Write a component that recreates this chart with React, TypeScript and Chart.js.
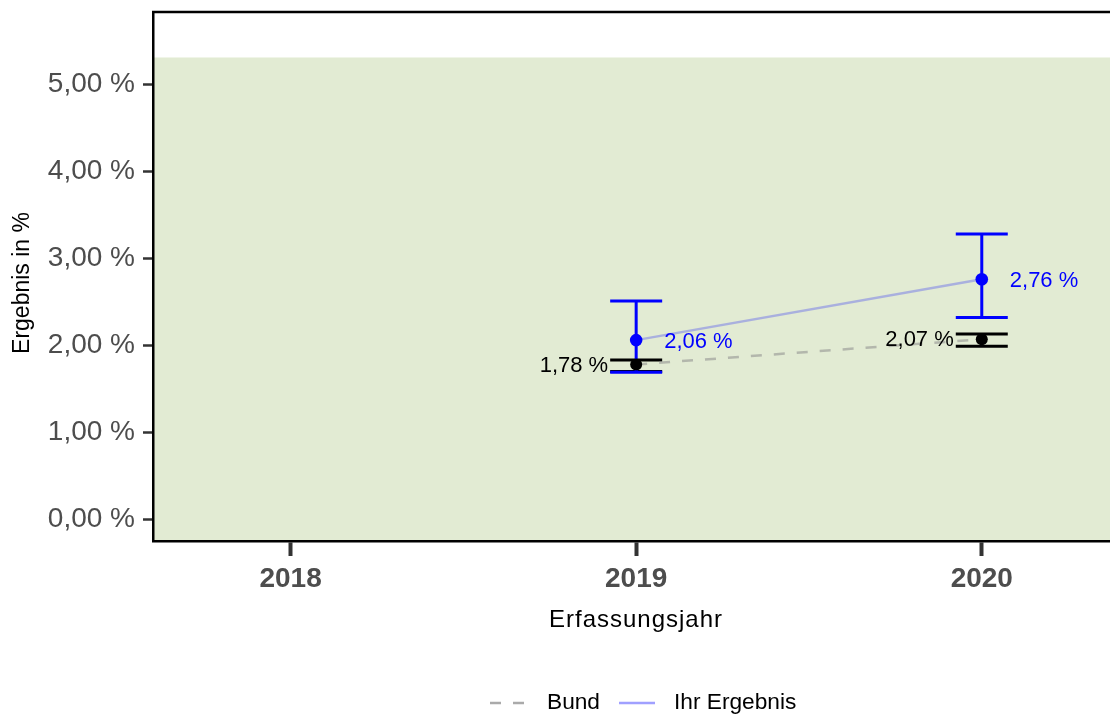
import React, { useEffect, useRef } from "react";
import { Chart, registerables } from "chart.js";

Chart.register(...registerables);

// ---- data ----
const years = [2019, 2020];
const xTickYears = [2018, 2019, 2020];
const yTickValues = [0, 1, 2, 3, 4, 5];
const seriesNames = ["Bund", "Ihr Ergebnis"];
const bundValues = [1.78, 2.07];
const bundLower = [1.7, 1.99];
const bundUpper = [1.83, 2.13];
const ihrValues = [2.06, 2.76];
const ihrLower = [1.69, 2.32];
const ihrUpper = [2.51, 3.28];
const referenceUpper = 5.31;
const xTitle = "Erfassungsjahr";
const yTitle = "Ergebnis in %";

const FONT = "'Liberation Sans', Arial, Helvetica, sans-serif";
const fmt = (v: number) => v.toFixed(2).replace(".", ",") + " %";

const W = 1110;
const H = 718;

export default function App() {
  const ref = useRef<HTMLCanvasElement | null>(null);

  useEffect(() => {
    const canvas = ref.current;
    if (!canvas) return;

    const bandPlugin = {
      id: "band",
      beforeDraw(chart: any) {
        const { ctx, chartArea, scales } = chart;
        const yTop = scales.y.getPixelForValue(referenceUpper);
        ctx.save();
        ctx.fillStyle = "#e2ebd3";
        ctx.fillRect(chartArea.left, yTop, chartArea.right - chartArea.left, chartArea.bottom - yTop);
        ctx.restore();
      },
    };

    const errorPlugin = {
      id: "errbars",
      beforeDatasetsDraw(chart: any) {
        const { ctx, scales } = chart;
        const draw = (lo: number[], hi: number[], color: string) => {
          ctx.save();
          ctx.strokeStyle = color;
          ctx.lineWidth = 3;
          ctx.lineCap = "butt";
          years.forEach((yr, i) => {
            const px = scales.x.getPixelForValue(yr);
            const pl = scales.y.getPixelForValue(lo[i]);
            const ph = scales.y.getPixelForValue(hi[i]);
            ctx.beginPath();
            ctx.moveTo(px, pl);
            ctx.lineTo(px, ph);
            ctx.moveTo(px - 26, pl);
            ctx.lineTo(px + 26, pl);
            ctx.moveTo(px - 26, ph);
            ctx.lineTo(px + 26, ph);
            ctx.stroke();
          });
          ctx.restore();
        };
        draw(bundLower, bundUpper, "#000000");
        draw(ihrLower, ihrUpper, "#0000ff");
      },
      afterDatasetsDraw(chart: any) {
        const { ctx, scales } = chart;
        ctx.save();
        ctx.font = `22px ${FONT}`;
        ctx.textBaseline = "middle";
        years.forEach((yr, i) => {
          const px = scales.x.getPixelForValue(yr);
          ctx.fillStyle = "#000000";
          ctx.textAlign = "right";
          ctx.fillText(fmt(bundValues[i]), px - 28, scales.y.getPixelForValue(bundValues[i]) + 1);
          ctx.fillStyle = "#0000ff";
          ctx.textAlign = "left";
          ctx.fillText(fmt(ihrValues[i]), px + 28, scales.y.getPixelForValue(ihrValues[i]) + 2);
        });
        ctx.restore();
      },
    };

    const decoPlugin = {
      id: "deco",
      afterDraw(chart: any) {
        const { ctx, chartArea } = chart;
        ctx.save();
        // top border
        ctx.strokeStyle = "#000000";
        ctx.lineWidth = 2.5;
        ctx.beginPath();
        ctx.moveTo(chartArea.left - 1, chartArea.top);
        ctx.lineTo(chartArea.right, chartArea.top);
        ctx.stroke();

        // axis titles
        ctx.fillStyle = "#000000";
        ctx.textAlign = "center";
        ctx.textBaseline = "middle";
        ctx.font = `24px ${FONT}`;
        (ctx as any).letterSpacing = "1px";
        ctx.fillText(xTitle, 636, 620);
        (ctx as any).letterSpacing = "0px";
        ctx.font = `23px ${FONT}`;
        ctx.save();
        ctx.translate(23, 283);
        ctx.rotate(-Math.PI / 2);
        ctx.fillText(yTitle, 0, 0);
        ctx.restore();

        // legend
        const ly = 703;
        ctx.font = `22.7px ${FONT}`;
        ctx.textAlign = "left";
        ctx.lineWidth = 2.5;
        ctx.strokeStyle = "#aaaaaa";
        ctx.setLineDash([11, 12]);
        ctx.beginPath();
        ctx.moveTo(490, ly);
        ctx.lineTo(525, ly);
        ctx.stroke();
        ctx.setLineDash([]);
        ctx.fillText(seriesNames[0], 547, ly);
        ctx.strokeStyle = "#a0a0ff";
        ctx.beginPath();
        ctx.moveTo(619, ly);
        ctx.lineTo(655, ly);
        ctx.stroke();
        ctx.fillText(seriesNames[1], 674, ly);
        ctx.restore();
      },
    };

    const chart = new Chart(canvas, {
      type: "line",
      data: {
        datasets: [
          {
            label: seriesNames[0],
            data: years.map((x, i) => ({ x, y: bundValues[i] })),
            borderColor: "rgba(140,140,140,0.55)",
            borderWidth: 2.5,
            borderDash: [11, 12],
            pointRadius: 6,
            pointBackgroundColor: "#000000",
            pointBorderColor: "#000000",
            pointBorderWidth: 0,
            order: 2,
          },
          {
            label: seriesNames[1],
            data: years.map((x, i) => ({ x, y: ihrValues[i] })),
            borderColor: "rgba(0,0,255,0.25)",
            borderWidth: 2.5,
            pointRadius: 6.3,
            pointBackgroundColor: "#0000ff",
            pointBorderColor: "#0000ff",
            pointBorderWidth: 0,
            order: 1,
          },
        ],
      },
      options: {
        animation: false,
        responsive: false,
        devicePixelRatio: 1,
        layout: { autoPadding: false, padding: { top: 12, left: 0, right: 0, bottom: 0 } },
        plugins: { legend: { display: false }, tooltip: { enabled: false } },
        scales: {
          x: {
            type: "linear",
            min: 2017.602,
            max: 2020.371,
            afterBuildTicks: (s: any) => {
              s.ticks = xTickYears.map((v) => ({ value: v }));
            },
            afterFit: (s: any) => {
              s.height = H - 541;
              s.paddingLeft = 0;
              s.paddingRight = 0;
            },
            grid: {
              display: true,
              drawOnChartArea: false,
              drawTicks: true,
              tickLength: 15,
              tickWidth: 4,
              tickColor: "#333333",
            },
            border: { display: true, color: "#000000", width: 2.5 },
            ticks: {
              callback: (v: any) => String(v),
              font: { family: FONT, size: 28, weight: "bold" },
              color: "#4d4d4d",
              padding: 6,
              maxRotation: 0,
              autoSkip: false,
            },
          },
          y: {
            type: "linear",
            min: -0.25,
            max: 5.833,
            afterBuildTicks: (s: any) => {
              s.ticks = yTickValues.map((v) => ({ value: v }));
            },
            afterFit: (s: any) => {
              s.width = 153;
              s.paddingTop = 0;
              s.paddingBottom = 0;
            },
            grid: {
              display: true,
              drawOnChartArea: false,
              drawTicks: true,
              tickLength: 10,
              tickWidth: 2.5,
              tickColor: "#333333",
            },
            border: { display: true, color: "#000000", width: 2.5 },
            ticks: {
              callback: (v: any) => fmt(Number(v)),
              font: { family: FONT, size: 28 },
              color: "#4d4d4d",
              padding: 8,
            },
          },
        },
      },
      plugins: [bandPlugin, errorPlugin, decoPlugin],
    } as any);

    return () => chart.destroy();
  }, []);

  return (
    <div style={{ position: "absolute", left: 0, top: 0, width: W, height: H, background: "#ffffff" }}>
      <canvas ref={ref} width={W} height={H} style={{ display: "block", width: W, height: H }} />
    </div>
  );
}
